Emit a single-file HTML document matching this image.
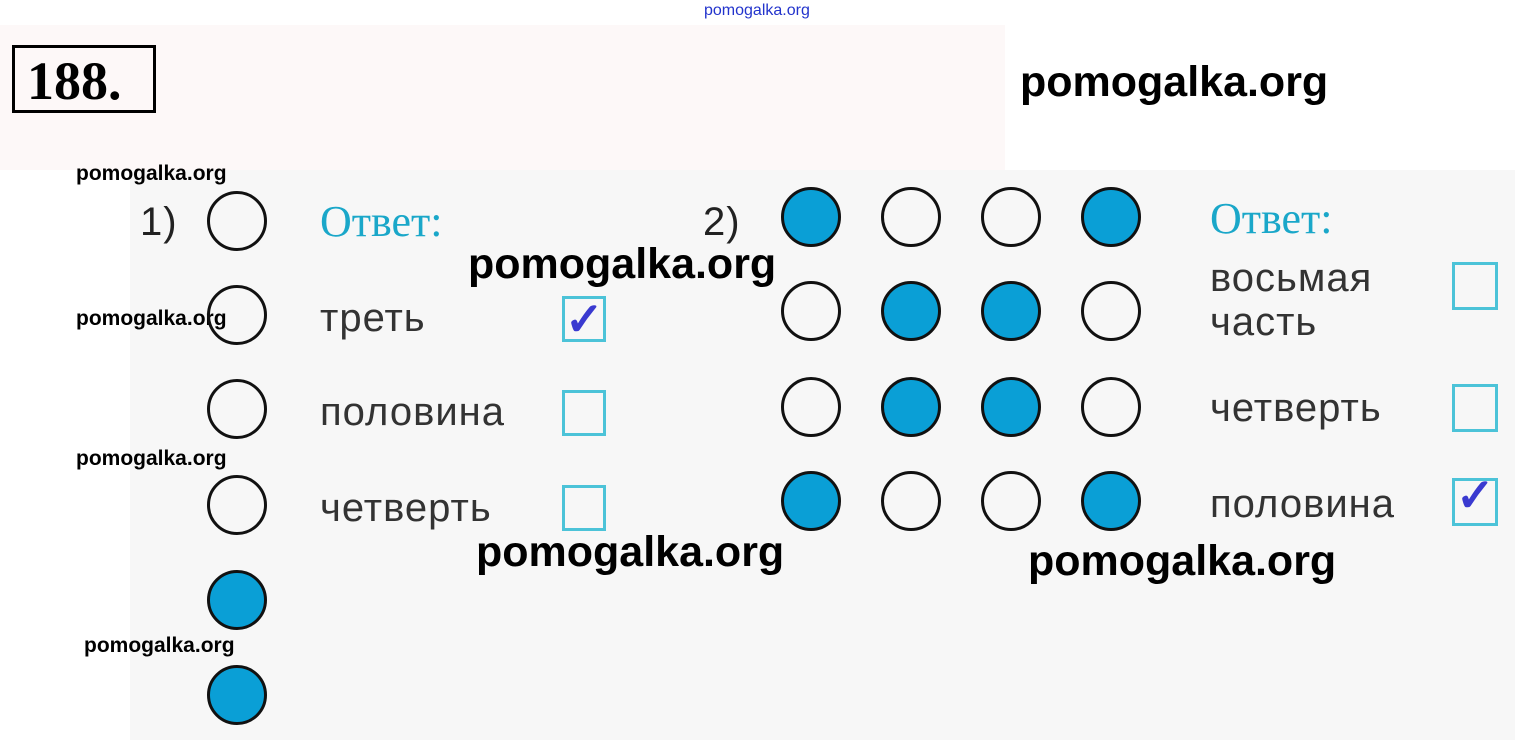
<!DOCTYPE html>
<html><head><meta charset="utf-8"><style>
body{margin:0;width:1523px;height:747px;position:relative;background:#fff;overflow:hidden;font-family:"Liberation Sans",sans-serif}
.a{position:absolute}
.c{position:absolute;width:60px;height:60px;border:3px solid #111;border-radius:50%;box-sizing:border-box}
.f{background:#0a9fd6}
.w{position:absolute;font-family:"Liberation Sans",sans-serif;color:#000;white-space:nowrap;font-weight:bold}
.ru{position:absolute;font-size:40px;color:#333;white-space:nowrap;letter-spacing:1px}
.ot{position:absolute;font-family:"Liberation Serif",serif;font-size:44px;color:#1aa7c9;white-space:nowrap}
.b{position:absolute;width:44px;height:46px;border:3px solid #4cc3d8;box-sizing:border-box}
.k{position:absolute;font-size:46px;color:#3a3ad0;font-weight:bold;line-height:42px}
</style></head><body>
<div class="a" style="left:0;top:25px;width:1005px;height:145px;background:#fdf8f8"></div>
<div class="a" style="left:130px;top:170px;width:1385px;height:570px;background:#f7f7f7"></div>
<div class="w" style="left:704px;top:2px;font-size:16px;color:#2233cc;font-weight:normal">pomogalka.org</div>
<div class="a" style="left:12px;top:45px;width:126px;height:62px;border:3px solid #000;font-family:'Liberation Serif',serif;font-weight:bold;font-size:54px;line-height:66px;padding-left:12px">188.</div>
<div class="w" style="left:1020px;top:58px;font-size:43px">pomogalka.org</div>
<div class="w" style="left:76px;top:162px;font-size:21px">pomogalka.org</div>
<div class="w" style="left:76px;top:307px;font-size:21px">pomogalka.org</div>
<div class="w" style="left:76px;top:447px;font-size:21px">pomogalka.org</div>
<div class="w" style="left:84px;top:634px;font-size:21px">pomogalka.org</div>
<div class="w" style="left:468px;top:240px;font-size:43px">pomogalka.org</div>
<div class="w" style="left:476px;top:528px;font-size:43px">pomogalka.org</div>
<div class="w" style="left:1028px;top:537px;font-size:43px">pomogalka.org</div>

<div class="ru" style="left:140px;top:200px;color:#222">1)</div>
<div class="ru" style="left:703px;top:200px;color:#222">2)</div>
<div class="c" style="left:207px;top:191px"></div>
<div class="c" style="left:207px;top:285px"></div>
<div class="c" style="left:207px;top:379px"></div>
<div class="c" style="left:207px;top:475px"></div>
<div class="c f" style="left:207px;top:570px"></div>
<div class="c f" style="left:207px;top:665px"></div>

<div class="ot" style="left:320px;top:196px">Ответ:</div>
<div class="ru" style="left:320px;top:296px">треть</div>
<div class="ru" style="left:320px;top:390px">половина</div>
<div class="ru" style="left:320px;top:486px">четверть</div>
<div class="b" style="left:562px;top:296px"></div><div class="k" style="left:565px;top:298px">✓</div>
<div class="b" style="left:562px;top:390px"></div>
<div class="b" style="left:562px;top:485px"></div>

<div class="c f" style="left:781px;top:187px"></div>
<div class="c" style="left:881px;top:187px"></div>
<div class="c" style="left:981px;top:187px"></div>
<div class="c f" style="left:1081px;top:187px"></div>
<div class="c" style="left:781px;top:281px"></div>
<div class="c f" style="left:881px;top:281px"></div>
<div class="c f" style="left:981px;top:281px"></div>
<div class="c" style="left:1081px;top:281px"></div>
<div class="c" style="left:781px;top:377px"></div>
<div class="c f" style="left:881px;top:377px"></div>
<div class="c f" style="left:981px;top:377px"></div>
<div class="c" style="left:1081px;top:377px"></div>
<div class="c f" style="left:781px;top:471px"></div>
<div class="c" style="left:881px;top:471px"></div>
<div class="c" style="left:981px;top:471px"></div>
<div class="c f" style="left:1081px;top:471px"></div>

<div class="ot" style="left:1210px;top:193px">Ответ:</div>
<div class="ru" style="left:1210px;top:256px;line-height:44px">восьмая<br>часть</div>
<div class="ru" style="left:1210px;top:386px">четверть</div>
<div class="ru" style="left:1210px;top:482px">половина</div>
<div class="b" style="left:1452px;top:262px;width:46px;height:48px"></div>
<div class="b" style="left:1452px;top:384px;width:46px;height:48px"></div>
<div class="b" style="left:1452px;top:478px;width:46px;height:48px"></div><div class="k" style="left:1456px;top:474px">✓</div>
</body></html>
